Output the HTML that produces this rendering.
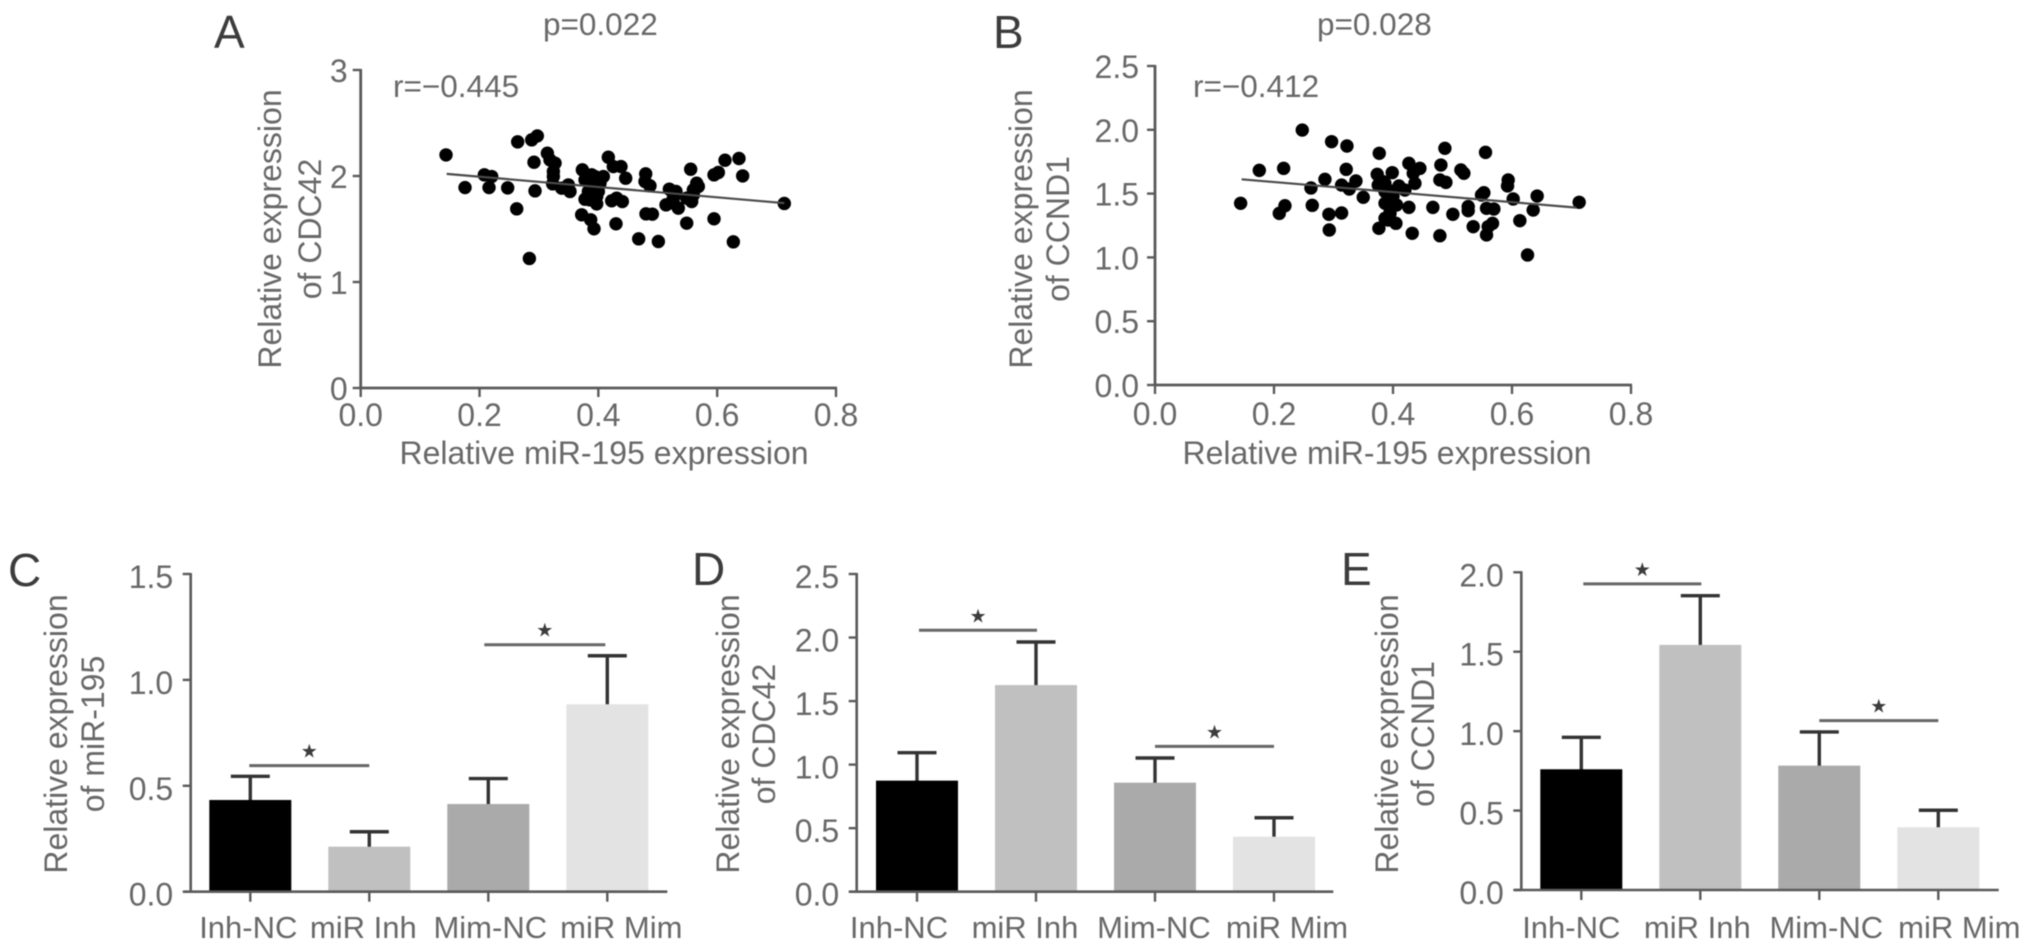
<!DOCTYPE html>
<html lang="en">
<head>
<meta charset="utf-8">
<title>miR-195 expression correlations and bar charts</title>
<style>
html,body{margin:0;padding:0;background:#fff;width:2032px;height:951px;overflow:hidden}
svg{display:block;filter:blur(0.45px)}
text{font-family:"Liberation Sans",sans-serif;fill:#686868}
</style>
</head>
<body>
<svg id="figure" xmlns="http://www.w3.org/2000/svg" width="2032" height="951" viewBox="0 0 2032 951"></svg>
<script>
// ---------- Scatter data ----------
const scatterATickX = ['0.0','0.2','0.4','0.6','0.8'];
const scatterATickY = ['0','1','2','3'];
const scatterBTickX = ['0.0','0.2','0.4','0.6','0.8'];
const scatterBTickY = ['0.0','0.5','1.0','1.5','2.0','2.5'];
const scatterAX = [.1436,.1756,.2081,.2205,.2160,.2474,.2626,.2934,.2839,.2642,.2878,.2973,.2917,.3142,.3186,.3271,.3243,.3231,.3383,.3495,.3523,.3731,.3776,.3944,.4084,.3832,.4028,.3972,.3776,.3972,.3972,.4224,.4308,.4404,.4168,.4252,.4381,.4460,.3719,.3871,.3927,.4297,.4679,.5010,.4797,.4785,.4869,.4802,.4909,.5195,.5307,.5262,.5139,.5346,.5487,.5554,.5683,.5599,.5571,.5947,.6272,.5947,.6020,.6132,.6367,.6429,.7130,.3888,.4,.3916,.386,.4,.3832,.5262,.5599,.5655,.5487,.3243,.5262];
const scatterAY = [2.199,1.891,2.011,1.995,1.891,1.888,1.690,1.860,1.222,2.322,2.341,2.378,2.130,2.215,2.152,2.121,2.042,1.926,1.885,1.916,1.854,2.058,1.964,1.995,1.995,1.948,1.932,1.869,1.781,1.806,1.737,1.766,1.791,1.759,2.177,2.089,2.089,1.979,1.634,1.587,1.502,1.549,1.407,1.382,2.020,1.948,1.907,1.643,1.640,1.876,1.854,1.791,1.728,1.697,1.555,2.064,1.901,1.869,1.759,1.596,1.379,2.011,2.033,2.149,2.165,2.001,1.741,2.011,1.964,1.916,1.775,1.854,1.854,1.838,1.822,1.932,1.791,1.995,1.744];
const fitAX = [.1447,.7130];
const fitAY = [2.02,1.744];
const scatterBX = [.1439,.1753,.2162,.2089,.2184,.2475,.2621,.2643,.2856,.2923,.3136,.2929,.2968,.3226,.3214,.3136,.3265,.3377,.35,.3769,.3735,.3752,.3864,.3987,.392,.392,.406,.3948,.392,.4049,.3763,.4267,.4452,.434,.4368,.42,.4267,.4323,.467,.4788,.4805,.4788,.4889,.4872,.5141,.5191,.5006,.5348,.5264,.5264,.5488,.5527,.5572,.5695,.5673,.5572,.56,.5555,.5936,.5925,.602,.6132,.6261,.6356,.6423,.7129,.3866,.4005,.395,.3866,.3837,.3866,.395,.4,.41];
const scatterBY = [1.424,1.682,1.698,1.345,1.405,1.998,1.544,1.408,1.612,1.338,1.348,1.215,1.907,1.873,1.690,1.567,1.536,1.599,1.471,1.816,1.651,1.567,1.580,1.664,1.528,1.450,1.411,1.345,1.293,1.267,1.228,1.737,1.698,1.659,1.580,1.528,1.392,1.189,1.392,1.170,1.724,1.607,1.588,1.855,1.685,1.659,1.338,1.241,1.398,1.366,1.489,1.507,1.385,1.379,1.267,1.176,1.241,1.823,1.607,1.560,1.458,1.288,1.019,1.371,1.481,1.432,1.515,1.424,1.346,1.306,1.593,1.424,1.387,1.48,1.56];
const fitBX = [.1456,.7084];
const fitBY = [1.612,1.390];

// ---------- Bar data ----------
const categories = ['Inh-NC','miR Inh','Mim-NC','miR Mim'];
const barFills = ['#000000','#c0c0c0','#aaaaaa','#e3e3e3'];
const sigPairs = [[0,1],[2,3]];
const barCTicks = ['0.0','0.5','1.0','1.5'];
const barCMeans = [.433,.2125,.414,.885];
const barCUpper = [.545,.283,.534,1.114];
const barCSig = [.595,1.166];
const barDTicks = ['0.0','0.5','1.0','1.5','2.0','2.5'];
const barDMeans = [.874,1.626,.858,.433];
const barDUpper = [1.094,1.965,1.052,.582];
const barDSig = [2.057,1.144];
const barETicks = ['0.0','0.5','1.0','1.5','2.0'];
const barEMeans = [.760,1.543,.783,.395];
const barEUpper = [.961,1.853,.995,.502];
const barESig = [1.927,1.066];

const NS = 'http://www.w3.org/2000/svg';
const fig = document.getElementById('figure');
function mk(tag, attrs, parent, txt){
  const el = document.createElementNS(NS, tag);
  for (const k in attrs) el.setAttribute(k, attrs[k]);
  if (txt !== undefined) el.textContent = txt;
  (parent || fig).appendChild(el);
  return el;
}
const AX = '#5a5a5a';

function panelLetter(letter, x, y){
  const t = mk('text', {x:x, y:y, 'font-size':46, style:'fill:#3c3c3c'}, fig, letter);
  
  
}

function yTitle(lines, x1, x2, cy, parent){
  lines.forEach(function(s, i){
    const x = i === 0 ? x1 : x2;
    const t = mk('text', {x:x, y:cy, 'font-size':32, 'text-anchor':'middle', transform:'rotate(-90 '+x+' '+cy+')'}, parent, s);
    
    
  });
}

function drawScatter(cfg){
  const g = mk('g', {});
  
  
  const sx = function(v){ return cfg.x0 + (v / cfg.xMax) * (cfg.x1 - cfg.x0); };
  const sy = function(v){ return cfg.y0 - (v / cfg.yMax) * (cfg.y0 - cfg.y1); };
  const yAxis = mk('line', {x1:cfg.x0, x2:cfg.x0, y1:cfg.y1-1, y2:cfg.y0+1, stroke:AX, 'stroke-width':2.8}, g);
  
  
  const xAxis = mk('line', {x1:cfg.x0-1, x2:cfg.x1+1, y1:cfg.y0, y2:cfg.y0, stroke:AX, 'stroke-width':2.8}, g);
  
  
  cfg.ticksY.forEach(function(lab){
    const y = sy(parseFloat(lab));
    const tick = mk('line', {x1:cfg.x0-8, x2:cfg.x0, y1:y, y2:y, stroke:AX, 'stroke-width':2.4}, g);
    
    
    const t = mk('text', {x:cfg.x0-cfg.labelGap, y:y+12, 'font-size':32, 'text-anchor':'end'}, g, lab);
    
    
  });
  cfg.ticksX.forEach(function(lab){
    const x = sx(parseFloat(lab));
    const tick = mk('line', {x1:x, x2:x, y1:cfg.y0, y2:cfg.y0+9, stroke:AX, 'stroke-width':2.4}, g);
    
    
    const t = mk('text', {x:x, y:cfg.xLabelY, 'font-size':32, 'text-anchor':'middle'}, g, lab);
    
    
  });
  cfg.xs.forEach(function(v, i){
    const c = mk('circle', {cx:sx(v), cy:sy(cfg.ys[i]), r:6.7, fill:'#000'}, g);
    
    
  });
  const fit = mk('line', {x1:sx(cfg.fitX[0]), y1:sy(cfg.fitY[0]), x2:sx(cfg.fitX[1]), y2:sy(cfg.fitY[1]), stroke:'#4a4a4a', 'stroke-width':2.2}, g);
  
  
  yTitle(cfg.title, cfg.tx1, cfg.tx2, 229, g);
  const xt = mk('text', {x:cfg.xtx, y:464, 'font-size':32, 'text-anchor':'middle'}, g, 'Relative miR-195 expression');
  
  
  const p = mk('text', {x:cfg.px, y:35, 'font-size':31.5}, g, cfg.pText);
  
  
  const r = mk('text', {x:cfg.rx, y:97, 'font-size':31.5}, g, cfg.rText);
  
  
}

function drawBars(cfg){
  const g = mk('g', {});
  
  
  const sy = function(v){ return cfg.y0 - (v / cfg.yMax) * (cfg.y0 - cfg.y1); };
  const cx = function(i){ return cfg.c0 + i * cfg.step; };
  cfg.means.forEach(function(v, i){
    const up = mk('line', {x1:cx(i), x2:cx(i), y1:sy(v)+1, y2:sy(cfg.upper[i]), stroke:'#333', 'stroke-width':3.4}, g);
    
    
    const cap = mk('line', {x1:cx(i)-19.5, x2:cx(i)+19.5, y1:sy(cfg.upper[i]), y2:sy(cfg.upper[i]), stroke:'#333', 'stroke-width':3.4}, g);
    
    
    const b = mk('rect', {x:cx(i)-41, y:sy(v), width:82, height:cfg.y0-sy(v), fill:barFills[i]}, g);
    
    
  });
  const yAxis = mk('line', {x1:cfg.x0, x2:cfg.x0, y1:cfg.y1-1, y2:cfg.y0+1, stroke:AX, 'stroke-width':2.6}, g);
  
  
  const xAxis = mk('line', {x1:cfg.x0-7, x2:cfg.xEnd, y1:cfg.y0, y2:cfg.y0, stroke:AX, 'stroke-width':2.6}, g);
  
  
  cfg.ticks.forEach(function(lab){
    const y = sy(parseFloat(lab));
    const tick = mk('line', {x1:cfg.x0-8, x2:cfg.x0, y1:y, y2:y, stroke:AX, 'stroke-width':2.4}, g);
    
    
    const t = mk('text', {x:cfg.x0-17.5, y:y+14, 'font-size':32, 'text-anchor':'end'}, g, lab);
    
    
  });
  categories.forEach(function(lab, i){
    const tick = mk('line', {x1:cx(i), x2:cx(i), y1:cfg.y0, y2:cfg.y0+10, stroke:AX, 'stroke-width':2.4}, g);
    
    
    const t = mk('text', {x:cx(i)+cfg.labelDx[i], y:938, 'font-size':31, 'text-anchor':'middle'}, g, lab);
    
    
  });
  sigPairs.forEach(function(pair, i){
    const a = cx(pair[0]) + cfg.sigShift[i][0], b = cx(pair[1]) + cfg.sigShift[i][1], y = sy(cfg.sig[i]);
    const l = mk('line', {x1:a, x2:b, y1:y, y2:y, stroke:'#666', 'stroke-width':3}, g);
    
    
    const s = mk('text', {x:(a+b)/2, y:y-8, 'font-size':19, 'text-anchor':'middle', style:'font-family:"DejaVu Sans",sans-serif;fill:#3c3c3c'}, g, '★');
    
    
  });
  yTitle(cfg.title, cfg.tx1, cfg.tx2, 734, g);
}

panelLetter('A', 214, 48);
panelLetter('B', 993, 48);
panelLetter('C', 8, 586);
panelLetter('D', 692, 585);
panelLetter('E', 1341, 585);

drawScatter({name:'scatter-cdc42', x0:360.7, x1:836, y0:388, y1:70, xMax:.8, yMax:3, labelGap:13, xLabelY:426,
  ticksX:scatterATickX, ticksY:scatterATickY, xs:scatterAX, ys:scatterAY, fitX:fitAX, fitY:fitAY,
  title:['Relative expression','of CDC42'], tx1:281, tx2:321, xtx:604,
  px:543, pText:'p=0.022', rx:393, rText:'r=−0.445'});
drawScatter({name:'scatter-ccnd1', x0:1155, x1:1631, y0:385, y1:66, xMax:.8, yMax:2.5, labelGap:16, xLabelY:425,
  ticksX:scatterBTickX, ticksY:scatterBTickY, xs:scatterBX, ys:scatterBY, fitX:fitBX, fitY:fitBY,
  title:['Relative expression','of CCND1'], tx1:1032, tx2:1069, xtx:1387,
  px:1317, pText:'p=0.028', rx:1193, rText:'r=−0.412'});
drawBars({name:'bar-chart-mir195', x0:190.7, xEnd:667.3, y0:891.7, y1:574, yMax:1.5, c0:250.3, step:119,
  ticks:barCTicks, means:barCMeans, upper:barCUpper, sig:barCSig,
  labelDx:[-2,-6,2,14], sigShift:[[-1,0],[-4,-2]],
  title:['Relative expression','of miR-195'], tx1:67, tx2:104});
drawBars({name:'bar-chart-cdc42', x0:856.7, xEnd:1333.3, y0:891.7, y1:574, yMax:2.5, c0:917, step:119,
  ticks:barDTicks, means:barDMeans, upper:barDUpper, sig:barDSig,
  labelDx:[-18,-11,-1,13], sigShift:[[2,1],[0,0]],
  title:['Relative expression','of CDC42'], tx1:739, tx2:775});
drawBars({name:'bar-chart-ccnd1', x0:1521.3, xEnd:1998.7, y0:890, y1:572.3, yMax:2, c0:1581.3, step:119,
  ticks:barETicks, means:barEMeans, upper:barEUpper, sig:barESig,
  labelDx:[-10,-3,7,21], sigShift:[[2,1],[0,0]],
  title:['Relative expression','of CCND1'], tx1:1398, tx2:1434});
</script>
</body>
</html>
